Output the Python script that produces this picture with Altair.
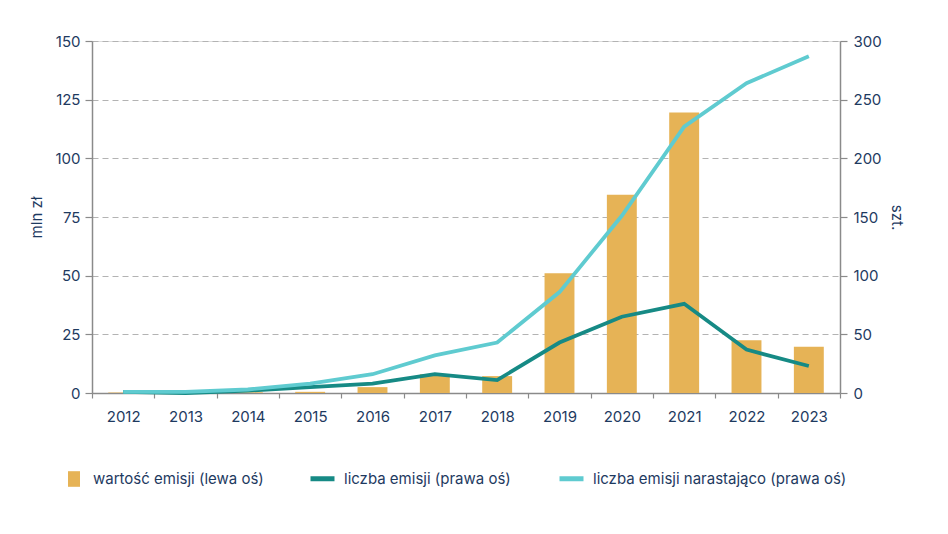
import altair as alt
import pandas as pd

years = ["2012", "2013", "2014", "2015", "2016", "2017", "2018", "2019", "2020", "2021", "2022", "2023"]
value_mln = [0.2, 0.0, 0.3, 0.5, 2.5, 8.0, 7.2, 51.0, 84.5, 119.5, 22.5, 19.7]
count = [1, 0, 2, 5, 8, 16, 11, 43, 65, 76, 37, 23]
cumulative = [1, 1, 3, 8, 16, 32, 43, 86, 151, 227, 264, 287]

S_BAR = "wartość emisji (lewa oś)"
S_CNT = "liczba emisji (prawa oś)"
S_CUM = "liczba emisji narastająco (prawa oś)"
bar_color = "#E6B356"
line_colors = ["#168A85", "#5FCBD0"]

TXT = "#1E3A5F"
FONT = "Inter"
FS = 15

bar_df = pd.DataFrame({"year": years, "value": value_mln, "series": S_BAR})
line_df = pd.concat([
    pd.DataFrame({"year": years, "n": count, "series": S_CNT}),
    pd.DataFrame({"year": years, "n": cumulative, "series": S_CUM}),
])

common_legend = dict(
    title=None, orient="none", direction="horizontal", padding=0,
    symbolSize=576, labelFontSize=FS, labelColor=TXT, labelFont=FONT,
    labelOffset=7, labelLimit=0,
)

bar_legend = alt.Legend(
    legendX=-30, legendY=426,
    symbolType="M-0.5,-0.65H0.5V0.65H-0.5Z", symbolStrokeWidth=0,
    columnPadding=40, **common_legend,
)
line_legend = alt.Legend(
    legendX=216, legendY=423,
    symbolType="stroke", symbolStrokeWidth=5,
    columnPadding=38, **common_legend,
)

AX = dict(domainColor="#8A8A8A", domainWidth=1.5, tickColor="#8A8A8A", tickWidth=1.2,
          labelFontSize=FS, labelColor=TXT, labelFont=FONT)
TT = dict(titleFontSize=FS, titleColor=TXT, titleFont=FONT, titleFontWeight="normal")

x_enc = alt.X(
    "year:O", sort=years, title=None,
    scale=alt.Scale(paddingInner=0, paddingOuter=0),
    axis=alt.Axis(labelAngle=0, tickBand="extent", tickSize=5, labelPadding=11, grid=False, **AX),
)

bars = alt.Chart(bar_df).mark_bar(width=alt.RelativeBandSize(0.48)).encode(
    x=x_enc,
    y=alt.Y("value:Q", title="mln zł",
            scale=alt.Scale(domain=[0, 150], nice=False),
            axis=alt.Axis(values=[0, 25, 50, 75, 100, 125, 150], orient="left",
                          tickSize=7, labelPadding=5, titlePadding=10,
                          grid=True, gridColor="#B3B3B3", gridDash=[6, 4], gridWidth=1.2,
                          **AX, **TT)),
    color=alt.Color("series:N", scale=alt.Scale(domain=[S_BAR], range=[bar_color]), legend=bar_legend),
)

lines = alt.Chart(line_df).mark_line(strokeWidth=3.8).encode(
    x=alt.X("year:O", sort=years),
    y=alt.Y("n:Q", title="szt.",
            scale=alt.Scale(domain=[0, 300], nice=False),
            axis=alt.Axis(values=[0, 50, 100, 150, 200, 250, 300], orient="right",
                          tickSize=7, labelPadding=6, titlePadding=7, grid=False,
                          **AX, **TT)),
    stroke=alt.Stroke("series:N", scale=alt.Scale(domain=[S_CNT, S_CUM], range=line_colors),
                      legend=line_legend),
)

chart = alt.layer(bars, lines).resolve_scale(y="independent").properties(
    width=748, height=352,
    padding={"left": 21, "top": 26, "right": 10, "bottom": 10},
).configure_view(stroke=None).configure(background="white")

chart.save("out.html", embed_options={"renderer": "svg", "actions": False})
